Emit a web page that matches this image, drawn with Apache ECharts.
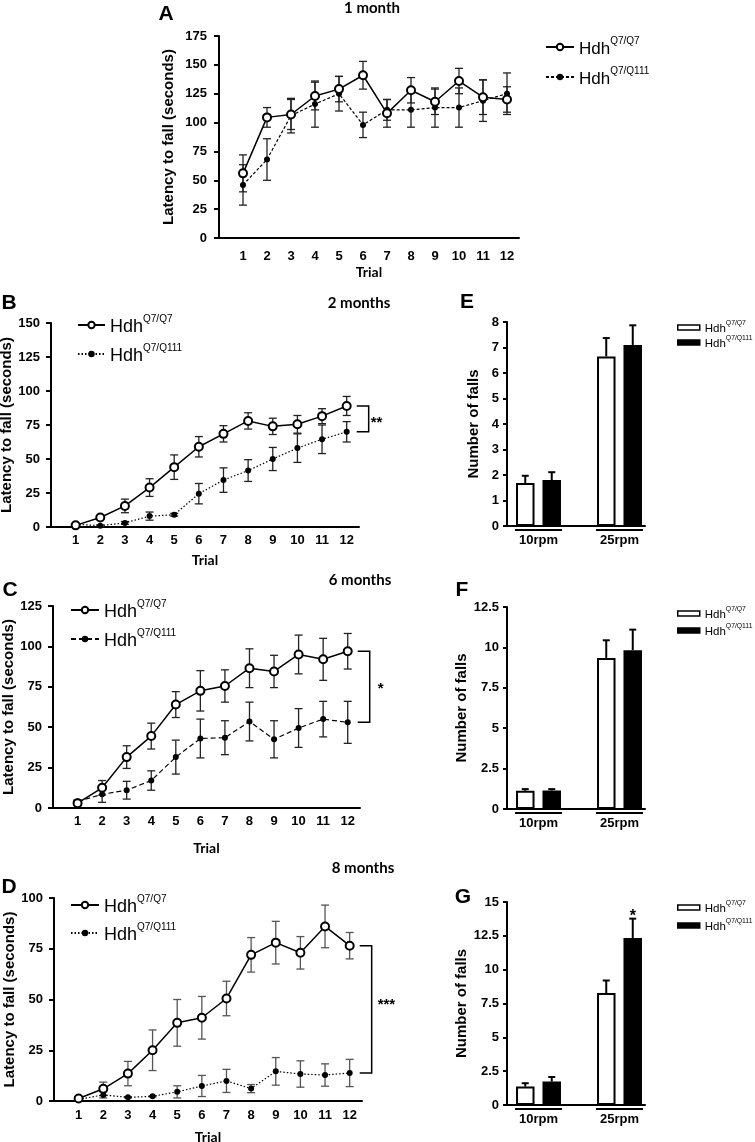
<!DOCTYPE html>
<html>
<head>
<meta charset="utf-8">
<script src="https://cdn.jsdelivr.net/npm/echarts@6/dist/echarts.min.js"></script>
<style>
  html, body { margin: 0; padding: 0; background: #fff; }
  #chart { width: 755px; height: 1142px; }
</style>
</head>
<body>
<div id="chart"></div>
<script>
// trials on the rotarod
const trials = [1, 2, 3, 4, 5, 6, 7, 8, 9, 10, 11, 12];

// A - 1 month
const aWt = [56, 104.5, 107, 123, 129, 141, 108, 128, 118, 136, 122, 120];
const aWtErr = [16, 8.5, 13, 12, 11, 12, 12, 11, 11, 11, 15, 11];
const aHd = [46, 68, 106, 116, 125, 98, 111, 111, 113, 113, 119, 125];
const aHdErr = [17.5, 18, 15, 20, 15, 11, 9, 15, 17, 17, 18, 18];

// B - 2 months
const bWt = [1.2, 7, 15.5, 29, 44, 59, 68.5, 78, 74, 75.5, 81.5, 89];
const bWtErr = [1, 1, 5, 6.5, 9, 7.5, 6, 6, 6, 6.5, 5.5, 7];
const bHd = [2, 1, 3, 8, 9, 24.5, 34.5, 41.5, 50, 58, 64.5, 70];
const bHdErr = [0.5, 0.5, 1, 3, 1, 7.5, 9, 8, 8.5, 10.5, 10.5, 7.5];

// C - 6 months
const cWt = [3, 12.5, 31.5, 44.5, 64, 72.5, 75.5, 86.5, 84.5, 95, 92, 97];
const cWtErr = [1.5, 4.5, 7, 8, 8, 12.5, 10, 12, 10, 12, 13, 11];
const cHd = [4, 8.5, 11, 17, 31.5, 43, 43.5, 53.5, 42.5, 49.5, 55, 53];
const cHdErr = [1, 5, 5.5, 6, 10.5, 12, 10.5, 12, 11.5, 12, 11, 13];

// D - 8 months
const dWt = [1.2, 6, 13.5, 25, 38.5, 41, 50.5, 72, 78, 73, 86, 76.5];
const dWtErr = [1, 3.3, 6, 10, 11.5, 10.5, 8.5, 8.5, 10.5, 8, 10.5, 6.5];
const dHd = [0.8, 3, 1.8, 2.3, 4.5, 7.4, 9.9, 6.1, 14.6, 13.3, 12.8, 13.8];
const dHdErr = [0.3, 1.5, 0.3, 0.3, 3, 5.2, 5.7, 2, 6.8, 6.5, 5.5, 6.7];

// E, F, G - number of falls
const rpm = ['10rpm', '25rpm'];
const eWt = [1.69, 6.65], eWtErr = [0.28, 0.72];
const eHd = [1.8, 7.1], eHdErr = [0.31, 0.77];
const fWt = [1.13, 9.35], fWtErr = [0.1, 1.09];
const fHd = [1.15, 9.83], fHdErr = [0.08, 1.27];
const gWt = [1.36, 8.27], gWtErr = [0.25, 0.93];
const gHd = [1.73, 12.34], gHdErr = [0.34, 1.43];
const gHdSig = ['', '*'];

const ARIAL = '"Liberation Sans", Arial, sans-serif';
const CALI = 'Lato, "Open Sans", sans-serif';

const grids = [], xAxes = [], yAxes = [], series = [], legends = [], texts = [];

function addText(text, x, y, size, family) {
  texts.push({
    type: 'text', x: x, y: y,
    style: {
      text: text, fontSize: size, fontWeight: 'bold', fontFamily: family, fill: '#000',
      align: 'center', verticalAlign: 'middle', textAlign: 'center', textVerticalAlign: 'middle'
    }
  });
}

function errRender(color, lw, cap, dx, upOnly, sig) {
  return function (params, api) {
    const x = api.value(0), y = api.value(1), e = api.value(2);
    const hi = api.coord([x, y + e]);
    const lo = api.coord([x, upOnly ? y : Math.max(0, y - e)]);
    const cx = hi[0] + dx;
    const st = { stroke: color, lineWidth: lw };
    const kids = [
      { type: 'line', shape: { x1: cx, y1: hi[1], x2: cx, y2: lo[1] }, style: st },
      { type: 'line', shape: { x1: cx - cap, y1: hi[1], x2: cx + cap, y2: hi[1] }, style: st }
    ];
    if (!upOnly) {
      kids.push({ type: 'line', shape: { x1: cx - cap, y1: lo[1], x2: cx + cap, y2: lo[1] }, style: st });
    }
    const s = sig && sig[params.dataIndex];
    if (s) {
      kids.push({ type: 'text', x: cx, y: hi[1] - 2,
        style: { text: s, fontSize: 16, fontWeight: 'bold', fontFamily: ARIAL, fill: '#000', align: 'center', verticalAlign: 'middle' } });
    }
    return { type: 'group', children: kids };
  };
}

function legendText(name) {
  return '{h|Hdh}{s|' + name.split('|')[1] + '}';
}

function linePanel(p) {
  const gi = grids.length;
  grids.push({ left: p.left, top: p.top, width: p.width, height: p.height, containLabel: false, outerBoundsMode: 'none' });
  xAxes.push({
    gridIndex: gi, type: 'value', min: 0, max: 12.5,
    name: 'Trial', nameLocation: 'middle', nameGap: p.trialGap,
    nameTextStyle: { fontFamily: CALI, fontWeight: 'bold', fontSize: 14, color: '#000' },
    axisLine: { lineStyle: { color: '#000', width: 2 } },
    axisTick: { show: false }, splitLine: { show: false },
    axisLabel: { customValues: trials, margin: p.xMargin, fontFamily: ARIAL, fontWeight: 'bold', fontSize: 13, color: '#000' }
  });
  yAxes.push({
    gridIndex: gi, type: 'value', min: 0, max: p.ymax, interval: 25,
    name: 'Latency to fall (seconds)', nameLocation: 'middle', nameGap: p.nameGap,
    nameTextStyle: { fontFamily: ARIAL, fontWeight: 'bold', fontSize: 15, color: '#000' },
    axisLine: { show: true, lineStyle: { color: '#000', width: 2 } },
    axisTick: { show: true, length: 5, lineStyle: { color: '#000', width: 2 } },
    splitLine: { show: false },
    axisLabel: { margin: p.yMargin, fontFamily: ARIAL, fontWeight: 'bold', fontSize: 13, color: '#000' }
  });
  const kWt = p.key + '|Q7/Q7', kHd = p.key + '|Q7/Q111';
  series.push({
    type: 'custom', xAxisIndex: gi, yAxisIndex: gi, clip: false, silent: true, z: 1,
    renderItem: errRender(p.errColor, 1.3, 4, 0, false),
    data: trials.map((t, i) => [t, p.wt[i], p.wtErr[i]])
  });
  series.push({
    type: 'custom', xAxisIndex: gi, yAxisIndex: gi, clip: false, silent: true, z: 1,
    renderItem: errRender(p.errColor, 1.3, 4, 0, false),
    data: trials.map((t, i) => [t, p.hd[i], p.hdErr[i]])
  });
  series.push({
    type: 'line', name: kHd, xAxisIndex: gi, yAxisIndex: gi, z: 2,
    data: trials.map((t, i) => [t, p.hd[i]]),
    symbol: 'circle', symbolSize: 6,
    lineStyle: { color: '#000', width: 1.2, type: p.dash },
    itemStyle: { color: '#000' }
  });
  series.push({
    type: 'line', name: kWt, xAxisIndex: gi, yAxisIndex: gi, z: 3,
    data: trials.map((t, i) => [t, p.wt[i]]),
    symbol: 'emptyCircle', symbolSize: 8,
    lineStyle: { color: '#000', width: 1.5 },
    itemStyle: { color: '#000', borderWidth: 1.5 }
  });
  if (p.sig) {
    const last = trials.length - 1;
    series.push({
      type: 'custom', xAxisIndex: gi, yAxisIndex: gi, clip: false, silent: true,
      data: [[trials[last], p.wt[last], p.hd[last]]],
      renderItem: function (params, api) {
        const a = api.coord([api.value(0), api.value(1)]);
        const b = api.coord([api.value(0), api.value(2)]);
        const x0 = a[0] + 10, x1 = x0 + 12;
        const st = { stroke: '#000', lineWidth: 1.5, fill: null };
        return {
          type: 'group', children: [
            { type: 'polyline', shape: { points: [[x0, a[1]], [x1, a[1]], [x1, b[1]], [x0, b[1]]] }, style: st },
            { type: 'text', x: x1 + p.sigDx, y: (a[1] + b[1]) / 2 + p.sigDy,
              style: { text: p.sig, fontSize: 15, fontWeight: 'bold', fontFamily: ARIAL, fill: '#000', align: 'left', verticalAlign: 'middle' } }
          ]
        };
      }
    });
  }
  legends.push({
    orient: 'vertical', left: p.legLeft, top: p.legTop, padding: 0, itemGap: p.legGap,
    itemWidth: p.legW, itemHeight: 8, selectedMode: false,
    data: [kWt, kHd], formatter: legendText,
    textStyle: {
      rich: {
        h: { fontSize: p.legFont, fontFamily: ARIAL, color: '#000', lineHeight: 22, verticalAlign: 'bottom' },
        s: { fontSize: 10, fontFamily: ARIAL, color: '#000', lineHeight: 10, verticalAlign: 'top' }
      }
    }
  });
  addText(p.letter, p.letterX, p.letterY, 21, ARIAL);
  addText(p.title, p.titleX, p.titleY, 15, CALI);
}

function barPanel(p) {
  const gb = grids.length;
  grids.push({ left: 498, top: p.top, width: 162, height: p.height, containLabel: false, outerBoundsMode: 'none' });
  xAxes.push({
    gridIndex: gb, type: 'category', data: rpm,
    axisLine: { show: false }, axisTick: { show: false },
    axisLabel: {
      interval: 0, margin: 3,
      formatter: v => '{ln| }\n{t|' + v + '}',
      rich: {
        ln: { width: 47, height: 2, lineHeight: 2, fontSize: 1, backgroundColor: '#000' },
        t: { fontSize: 13, fontWeight: 'bold', fontFamily: ARIAL, color: '#000', lineHeight: 18 }
      }
    }
  });
  yAxes.push({ gridIndex: gb, type: 'value', min: 0, max: p.ymax, show: false });
  const gf = grids.length;
  grids.push({ left: 507, top: p.top, width: 138, height: p.height, containLabel: false, outerBoundsMode: 'none' });
  xAxes.push({
    gridIndex: gf, type: 'value', min: 0, max: 1,
    axisLine: { lineStyle: { color: '#000', width: 2 } },
    axisTick: { show: false }, axisLabel: { show: false }, splitLine: { show: false }
  });
  yAxes.push({
    gridIndex: gf, type: 'value', min: 0, max: p.ymax, interval: p.step,
    name: 'Number of falls', nameLocation: 'middle', nameGap: p.nameGap,
    nameTextStyle: { fontFamily: ARIAL, fontWeight: 'bold', fontSize: 15, color: '#000' },
    axisLine: { show: true, lineStyle: { color: '#000', width: 2 } },
    axisTick: { show: true, length: 4, lineStyle: { color: '#000', width: 2 } },
    splitLine: { show: false },
    axisLabel: { margin: 8, fontFamily: ARIAL, fontWeight: 'bold', fontSize: 13, color: '#000' }
  });
  const kWt = p.key + '|Q7/Q7', kHd = p.key + '|Q7/Q111';
  series.push({
    type: 'bar', name: kWt, xAxisIndex: gb, yAxisIndex: gb, barWidth: 18.5, barGap: '43%',
    data: p.wt, itemStyle: { color: '#fff', borderColor: '#000', borderWidth: 2 }
  });
  series.push({
    type: 'bar', name: kHd, xAxisIndex: gb, yAxisIndex: gb, barWidth: 18.5, barGap: '43%',
    data: p.hd, itemStyle: { color: '#000', borderColor: '#000', borderWidth: 2 }
  });
  series.push({
    type: 'custom', xAxisIndex: gb, yAxisIndex: gb, clip: false, silent: true, z: 3,
    renderItem: errRender('#000', 2, 3.5, -13.25, true),
    data: rpm.map((r, i) => [i, p.wt[i], p.wtErr[i]])
  });
  series.push({
    type: 'custom', xAxisIndex: gb, yAxisIndex: gb, clip: false, silent: true, z: 3,
    renderItem: errRender('#000', 2, 3.5, 13.25, true, p.sig),
    data: rpm.map((r, i) => [i, p.hd[i], p.hdErr[i]])
  });
  legends.push({
    orient: 'vertical', left: 677, top: p.legTop, padding: 0, itemGap: p.legGap,
    itemWidth: 22, itemHeight: 5, icon: 'rect', selectedMode: false,
    itemStyle: { borderWidth: 1.5 },
    data: [kWt, kHd], formatter: legendText,
    textStyle: {
      rich: {
        h: { fontSize: 11.5, fontFamily: ARIAL, color: '#000', lineHeight: 15, verticalAlign: 'bottom' },
        s: { fontSize: 6.8, fontFamily: ARIAL, color: '#000', lineHeight: 8, verticalAlign: 'top' }
      }
    }
  });
  addText(p.letter, p.letterX, p.letterY, 21, ARIAL);
}

linePanel({
  key: 'A', wt: aWt, wtErr: aWtErr, hd: aHd, hdErr: aHdErr,
  left: 219, top: 36, width: 300, height: 202, ymax: 175,
  xMargin: 12, trialGap: 27, nameGap: 43, yMargin: 12, dash: [3, 2], errColor: '#222',
  legLeft: 545, legTop: 36, legGap: 8, legW: 28, legFont: 17,
  letter: 'A', letterX: 166, letterY: 14, title: '1 month', titleX: 372, titleY: 8
});
linePanel({
  key: 'B', wt: bWt, wtErr: bWtErr, hd: bHd, hdErr: bHdErr,
  left: 51, top: 323, width: 308, height: 204, ymax: 150,
  xMargin: 7, trialGap: 26, nameGap: 32, yMargin: 11, dash: [1.5, 2], errColor: '#222',
  sig: '**', sigDx: 2, sigDy: 4,
  legLeft: 77, legTop: 314, legGap: 7, legW: 27, legFont: 18,
  letter: 'B', letterX: 9, letterY: 303, title: '2 months', titleX: 359, titleY: 303
});
linePanel({
  key: 'C', wt: cWt, wtErr: cWtErr, hd: cHd, hdErr: cHdErr,
  left: 53, top: 606, width: 307, height: 202, ymax: 125,
  xMargin: 7, trialGap: 33, nameGap: 33, yMargin: 11, dash: [5, 3], errColor: '#222',
  sig: '*', sigDx: 8, sigDy: 2,
  legLeft: 70, legTop: 599, legGap: 7, legW: 28, legFont: 18,
  letter: 'C', letterX: 10, letterY: 590, title: '6 months', titleX: 360, titleY: 580
});
linePanel({
  key: 'D', wt: dWt, wtErr: dWtErr, hd: dHd, hdErr: dHdErr,
  left: 54, top: 898, width: 308, height: 203, ymax: 100,
  xMargin: 8, trialGap: 29, nameGap: 34, yMargin: 11, dash: [1.5, 2], errColor: '#555',
  sig: '***', sigDx: 6, sigDy: -4,
  legLeft: 70, legTop: 894, legGap: 6, legW: 28, legFont: 18,
  letter: 'D', letterX: 9, letterY: 887, title: '8 months', titleX: 363, titleY: 868
});

barPanel({
  key: 'E', wt: eWt, wtErr: eWtErr, hd: eHd, hdErr: eHdErr,
  top: 322, height: 204, ymax: 8, step: 1, nameGap: 26,
  legTop: 320, legGap: 0, letter: 'E', letterX: 467, letterY: 302
});
barPanel({
  key: 'F', wt: fWt, wtErr: fWtErr, hd: fHd, hdErr: fHdErr,
  top: 607, height: 202, ymax: 12.5, step: 2.5, nameGap: 32,
  legTop: 606, legGap: 2, letter: 'F', letterX: 462, letterY: 590
});
barPanel({
  key: 'G', wt: gWt, wtErr: gWtErr, hd: gHd, hdErr: gHdErr, sig: gHdSig,
  top: 902, height: 203, ymax: 15, step: 2.5, nameGap: 36,
  legTop: 900, legGap: 3, letter: 'G', letterX: 463, letterY: 897
});

const chart = echarts.init(document.getElementById('chart'));
chart.setOption({
  animation: false,
  backgroundColor: '#fff',
  grid: grids,
  xAxis: xAxes,
  yAxis: yAxes,
  legend: legends,
  series: series,
  graphic: { elements: texts }
});
</script>
</body>
</html>
